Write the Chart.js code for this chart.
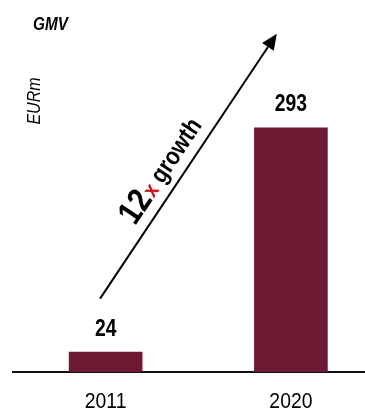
<!DOCTYPE html>
<html>
<head>
<meta charset="utf-8">
<script src="https://cdn.jsdelivr.net/npm/chart.js@4/dist/chart.umd.min.js"></script>
<style>
  html, body { margin: 0; padding: 0; background: #ffffff; }
  #wrap { position: relative; width: 365px; height: 411px; }
</style>
</head>
<body>
<div id="wrap"><canvas id="chart"></canvas></div>
<script>
// GMV by year, EUR million
const categories = ['2011', '2020'];
const gmvValues = [24, 293];
const chartTitle = 'GMV';
const unitLabel = 'EURm';
const growthMultiple = '12';
const growthSuffix = 'x';
const growthWord = 'growth';

// Growth arrow end points, in data space (x = category index, y = EURm)
const arrowFrom = { x: -0.03, y: 88 };
const arrowTo = { x: 0.924, y: 406 };

const FONT = '"Liberation Sans", Arial, Helvetica, sans-serif';
const NARROW = 0.86;           // horizontal squeeze for a narrow sans look
const BAR_COLOR = '#6d1931';

// Draws text squeezed horizontally around its anchor point
function narrowText(ctx, text, x, y, font, align, squeeze) {
  ctx.save();
  ctx.font = font;
  ctx.textAlign = align;
  ctx.translate(x, y);
  ctx.scale(squeeze || NARROW, 1);
  ctx.fillText(text, 0, 0);
  ctx.restore();
}

const overlay = {
  id: 'overlay',
  afterDatasetsDraw(chart) {
    const { ctx, scales, chartArea } = chart;
    const xs = scales.x, ys = scales.y;
    ctx.save();
    ctx.fillStyle = '#000';
    ctx.textBaseline = 'alphabetic';

    // Title and unit
    narrowText(ctx, chartTitle, 33, 30, 'italic bold 18px ' + FONT, 'left', 0.85);
    ctx.save();
    ctx.translate(40, 101);
    ctx.rotate(-Math.PI / 2);
    narrowText(ctx, unitLabel, 0, 0, 'italic 18px ' + FONT, 'center', 0.89);
    ctx.restore();

    // Category labels under the axis
    categories.forEach((c, i) => {
      narrowText(ctx, c, xs.getPixelForValue(i), chartArea.bottom + 36, '22px ' + FONT, 'center', 0.88);
    });

    // Value labels above the bars
    const meta = chart.getDatasetMeta(0);
    meta.data.forEach((bar, i) => {
      narrowText(ctx, String(gmvValues[i]), bar.x, bar.y - 16.5, 'bold 23px ' + FONT, 'center', 0.84);
    });

    // Growth arrow
    const x1 = xs.getPixelForValue(arrowFrom.x), y1 = ys.getPixelForValue(arrowFrom.y);
    const x2 = xs.getPixelForValue(arrowTo.x), y2 = ys.getPixelForValue(arrowTo.y);
    const ang = Math.atan2(y2 - y1, x2 - x1);
    const headLen = 16, headHalf = 7;
    const bx = x2 - headLen * Math.cos(ang), by = y2 - headLen * Math.sin(ang);
    ctx.strokeStyle = '#000';
    ctx.lineWidth = 2;
    ctx.beginPath();
    ctx.moveTo(x1, y1);
    ctx.lineTo(bx, by);
    ctx.stroke();
    ctx.beginPath();
    ctx.moveTo(x2, y2);
    ctx.lineTo(bx + headHalf * Math.sin(ang), by - headHalf * Math.cos(ang));
    ctx.lineTo(bx - headHalf * Math.sin(ang), by + headHalf * Math.cos(ang));
    ctx.closePath();
    ctx.fill();

    // "12x growth" running along the arrow
    const len = Math.hypot(x2 - x1, y2 - y1);
    const t = 0.25, offset = 11;
    const ux = (x2 - x1) / len, uy = (y2 - y1) / len;
    const px = x1 + ux * len * t + uy * offset;
    const py = y1 + uy * len * t - ux * offset;
    ctx.translate(px, py);
    ctx.rotate(ang);
    ctx.scale(NARROW, 1);
    ctx.textAlign = 'left';
    let cx = 0;
    ctx.font = 'bold 34px ' + FONT;
    ctx.fillStyle = '#000';
    ctx.fillText(growthMultiple, cx, 0);
    cx += ctx.measureText(growthMultiple).width + 1;
    ctx.font = 'bold 22px ' + FONT;
    ctx.fillStyle = '#d0101a';
    ctx.fillText(growthSuffix, cx, 0);
    cx += ctx.measureText(growthSuffix).width + 7;
    ctx.font = 'bold 25px ' + FONT;
    ctx.fillStyle = '#000';
    ctx.fillText(growthWord, cx, 0);

    ctx.restore();
  }
};

new Chart(document.getElementById('chart'), {
  type: 'bar',
  data: {
    datasets: [{
      data: gmvValues.map((v, i) => ({ x: i, y: v })),
      backgroundColor: BAR_COLOR,
      borderWidth: 0,
      barThickness: 73
    }]
  },
  options: {
    responsive: true,
    maintainAspectRatio: false,
    animation: false,
    layout: { padding: { left: 13, right: 0, top: 122, bottom: 0 } },
    plugins: { legend: { display: false }, tooltip: { enabled: false } },
    scales: {
      x: {
        type: 'linear',
        min: -0.5,
        max: 1.4,
        offset: false,
        ticks: { display: false },
        grid: { display: false, drawTicks: false },
        border: { display: true, color: '#111', width: 2 },
        afterFit(scale) { scale.height = 39; }
      },
      y: {
        display: false,
        min: 0,
        max: 300
      }
    }
  },
  plugins: [overlay]
});
</script>
</body>
</html>
